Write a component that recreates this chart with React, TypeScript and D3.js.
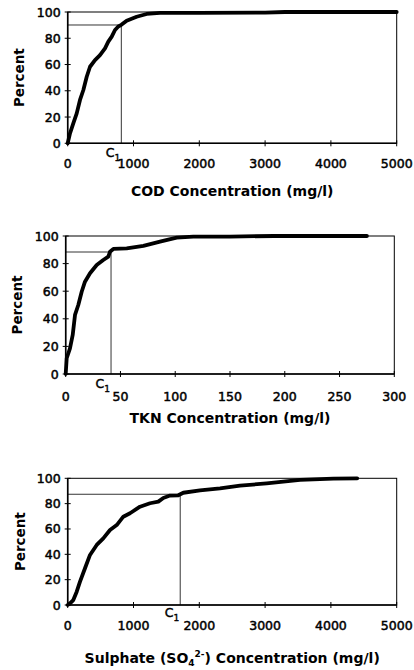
import React from 'react';
import * as d3 from 'd3';

// cumulative curves (concentration, percent)
const codConc = [0, 35, 85, 137, 187, 238, 289, 339, 415, 491, 567, 617, 669, 719, 769, 815, 896, 1048, 1200, 1403, 2000, 3000, 3300, 5000];
const codPct = [0, 7.6, 15.2, 22.8, 33, 40.6, 50.7, 58.3, 63.4, 67.2, 72.3, 77.4, 81.2, 86.3, 89, 90.2, 93.4, 96.4, 98.5, 99.3, 99.4, 99.5, 100, 100];

const tknConc = [0, 0.9, 3.9, 6.4, 8.5, 11.5, 14.6, 17.6, 22.2, 28.3, 34.3, 38.9, 40.4, 43.5, 55.7, 70.9, 86.1, 101.3, 116.5, 150, 190, 275];
const tknPct = [0, 11.4, 18.6, 28.3, 42.8, 50, 59.6, 66.9, 73, 79, 82.6, 85, 88.6, 90.6, 91.1, 92.9, 95.9, 98.8, 99.5, 99.6, 100, 100];

const so4Conc = [0, 35, 85, 137, 187, 263, 339, 441, 541, 643, 745, 845, 947, 1099, 1251, 1377, 1453, 1555, 1681, 1757, 2011, 2315, 2619, 3024, 3531, 4037, 4400];
const so4Pct = [0, 1.3, 3.9, 10.5, 18.4, 29, 39.5, 47.4, 52.6, 59.2, 63.1, 69.7, 72.4, 77.6, 80.3, 81.6, 84.5, 86.4, 86.6, 88.6, 90.4, 92.1, 94.2, 96, 98.7, 99.7, 100];

// C1 threshold markers (concentration, percent)
const codMark = [815, 90.1];
const tknMark = [41.4, 88.4];
const so4Mark = [1710, 87.4];

const percentTicks = [0, 20, 40, 60, 80, 100];
const codTicks = [0, 1000, 2000, 3000, 4000, 5000];
const tknTicks = [0, 50, 100, 150, 200, 250, 300];
const so4Ticks = [0, 1000, 2000, 3000, 4000, 5000];

const tickFont = '"DejaVu Sans", sans-serif';

interface PanelProps {
  conc: number[];
  pct: number[];
  mark: number[];
  ticks: number[];
  xMax: number;
  left: number;
  right: number;
  top: number;
  bottom: number;
  tickGap: number;
  cGap: number;
  titleGap: number;
  labelX: number;
  title: React.ReactNode;
}

function Panel(p: PanelProps) {
  const x = d3.scaleLinear().domain([0, p.xMax]).range([p.left, p.right]);
  const y = d3.scaleLinear().domain([0, 100]).range([p.bottom, p.top]);
  const pts: [number, number][] = p.conc.map((c, i) => [c, p.pct[i]]);
  const line = d3.line<[number, number]>().x(d => x(d[0])).y(d => y(d[1]));
  const mx = x(p.mark[0]);
  const my = y(p.mark[1]);
  const midY = (p.top + p.bottom) / 2;
  return (
    <g>
      {/* frame */}
      <rect x={p.left} y={p.top} width={p.right - p.left} height={p.bottom - p.top} fill="none" stroke="#000" strokeWidth={1} />
      <line x1={p.left} x2={p.left} y1={p.top} y2={p.bottom} stroke="#000" strokeWidth={1.6} />
      <line x1={p.left} x2={p.right} y1={p.bottom} y2={p.bottom} stroke="#000" strokeWidth={1.6} />
      {/* y axis */}
      {percentTicks.map(t => (
        <g key={'y' + t}>
          <line x1={p.left - 3} x2={p.left + 3} y1={y(t)} y2={y(t)} stroke="#000" strokeWidth={1} />
          <text x={p.left - 7} y={y(t)} dy="0.36em" textAnchor="end" fontFamily={tickFont} fontSize={12.5} stroke="#000" strokeWidth={0.5}>{t}</text>
        </g>
      ))}
      {/* x axis */}
      {p.ticks.map(t => (
        <g key={'x' + t}>
          <line x1={x(t)} x2={x(t)} y1={p.bottom - 3} y2={p.bottom + 3} stroke="#000" strokeWidth={1} />
          <text x={x(t)} y={p.bottom + p.tickGap} textAnchor="middle" fontFamily={tickFont} fontSize={12.5} stroke="#000" strokeWidth={0.5}>{t}</text>
        </g>
      ))}
      {/* reference lines */}
      <line x1={p.left} x2={mx} y1={my} y2={my} stroke="#000" strokeWidth={0.8} />
      <line x1={mx} x2={mx} y1={my} y2={p.bottom} stroke="#000" strokeWidth={0.8} />
      <path d={line(pts) || ''} fill="none" stroke="#000" strokeWidth={3.8} strokeLinejoin="round" strokeLinecap="round" />
      <text x={mx - 1} y={p.bottom + p.cGap} textAnchor="end" fontFamily={tickFont} fontSize={12.5} stroke="#000" strokeWidth={0.4}>
        C<tspan fontSize={9} dy={4}>1</tspan>
      </text>
      <text transform={`translate(${p.labelX},${midY}) rotate(-90)`} textAnchor="middle" fontFamily={tickFont} fontWeight="bold" fontSize={13.5}>Percent</text>
      <text x={(p.left + p.right) / 2} y={p.bottom + p.titleGap} textAnchor="middle" fontFamily={tickFont} fontWeight="bold" fontSize={14}>{p.title}</text>
    </g>
  );
}

export default function App() {
  return (
    <div style={{ position: 'absolute', left: 0, top: 0 }}>
      <svg width={414} height={670} style={{ display: 'block', background: '#fff' }}>
        <Panel conc={codConc} pct={codPct} mark={codMark} ticks={codTicks} xMax={5000}
          left={67.7} right={396.7} top={12} bottom={143.3} tickGap={25} cGap={14} titleGap={53} labelX={24}
          title="COD Concentration (mg/l)" />
        <Panel conc={tknConc} pct={tknPct} mark={tknMark} ticks={tknTicks} xMax={300}
          left={65.7} right={394.3} top={236} bottom={374} tickGap={27} cGap={14} titleGap={49} labelX={22}
          title="TKN Concentration (mg/l)" />
        <Panel conc={so4Conc} pct={so4Pct} mark={so4Mark} ticks={so4Ticks} xMax={5000}
          left={67.7} right={396.7} top={478.3} bottom={605} tickGap={25} cGap={12} titleGap={58} labelX={25}
          title={<>Sulphate (SO<tspan fontSize={9} dy={3}>4</tspan><tspan fontSize={9} dy={-9}>2-</tspan><tspan dy={6}>) Concentration (mg/l)</tspan></>} />
      </svg>
    </div>
  );
}
